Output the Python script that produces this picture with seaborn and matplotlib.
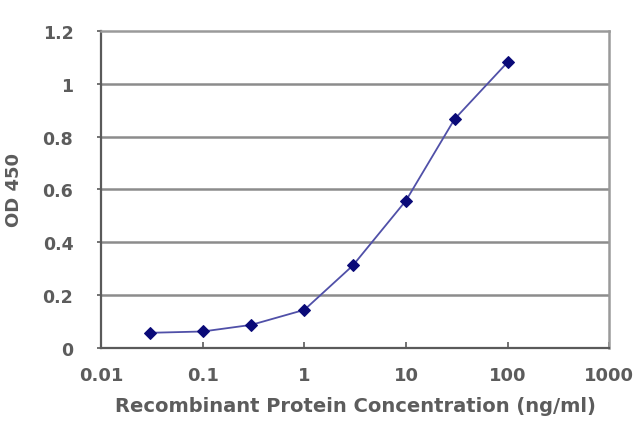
import numpy as np
import pandas as pd
import matplotlib
matplotlib.use("Agg")
import matplotlib.pyplot as plt
from matplotlib.ticker import FixedLocator, FixedFormatter, NullLocator
import seaborn as sns

# ELISA standard curve
concentration = [0.03, 0.1, 0.3, 1, 3, 10, 30, 100]
od450 = [0.057, 0.062, 0.087, 0.144, 0.312, 0.558, 0.866, 1.082]

x_ticks = [0.01, 0.1, 1, 10, 100, 1000]
x_tick_labels = ["0.01", "0.1", "1", "10", "100", "1000"]
y_ticks = [0, 0.2, 0.4, 0.6, 0.8, 1, 1.2]
y_tick_labels = ["0", "0.2", "0.4", "0.6", "0.8", "1", "1.2"]

sns.set_style("white")
plt.rcParams['font.family'] = ['DejaVu Sans']
text_color = "#5c5c5c"

df = pd.DataFrame({"conc": concentration, "od": od450})

fig = plt.figure(figsize=(6.4, 4.27), dpi=100)
ax = fig.add_axes([0.158, 0.183, 0.794, 0.742])

ax.set_xscale("log")
for y in y_ticks[1:-1]:
    ax.axhline(y, color="#8c8c8c", linewidth=1.8, zorder=0)

sns.lineplot(data=df, x="conc", y="od", ax=ax, color="#5050a8", linewidth=1.3,
             marker="D", markersize=6, markerfacecolor="#0a0a78",
             markeredgecolor="#0a0a78")

ax.set_xlim(0.01, 1000)
ax.set_ylim(0, 1.2)
ax.xaxis.set_major_locator(FixedLocator(x_ticks))
ax.xaxis.set_major_formatter(FixedFormatter(x_tick_labels))
ax.xaxis.set_minor_locator(NullLocator())
ax.yaxis.set_major_locator(FixedLocator(y_ticks))
ax.yaxis.set_major_formatter(FixedFormatter(y_tick_labels))

for side in ["right", "top"]:
    ax.spines[side].set_color("#9a9a9a")
    ax.spines[side].set_linewidth(1.8)
for side in ["left", "bottom"]:
    ax.spines[side].set_color("#5a5a5a")
    ax.spines[side].set_linewidth(1.6)

ax.tick_params(axis="x", direction="in", length=4, width=1.2, color="#5a5a5a",
               labelsize=13, labelcolor=text_color, pad=13, bottom=True)
ax.tick_params(axis="y", direction="out", length=3, width=1.2, color="#5a5a5a",
               labelsize=12.5, labelcolor=text_color, pad=17, left=True)
for lbl in ax.get_xticklabels() + ax.get_yticklabels():
    lbl.set_fontweight("bold")

ax.set_xlabel("Recombinant Protein Concentration (ng/ml)", fontsize=14,
              fontweight="bold", color=text_color, labelpad=9)
ax.set_ylabel("OD 450", fontsize=13, fontweight="bold", color=text_color,
              labelpad=14)

fig.savefig("out.png", dpi=100)
